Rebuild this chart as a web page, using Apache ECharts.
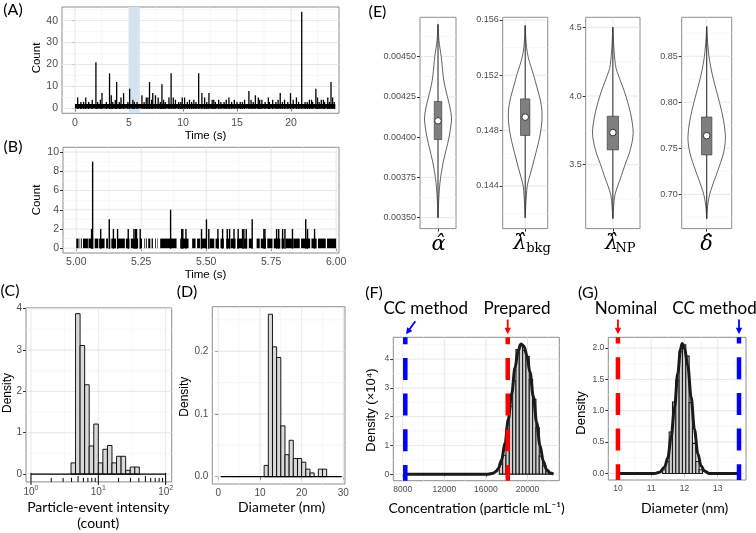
<!DOCTYPE html>
<html><head><meta charset="utf-8">
<script src="https://cdn.jsdelivr.net/npm/echarts@6/dist/echarts.min.js"></script>
<style>html,body{margin:0;padding:0;background:#fff}#c{width:756px;height:533px}</style>
</head><body><div id="c"></div>
<script>
// ================= DATA =================
// (A) full time trace: spikes [time s, count] and dense background band [start, end, count]
const aSpikes = [[0.25,5],[0.55,3],[0.8,3],[1.0,5],[1.27,3],[1.6,4],[1.94,21],[2.1,3],[2.35,4],[2.5,7],[2.9,3],[3.2,16],[3.36,6],[3.5,3],[3.73,4],[3.86,12],[4.1,3],[4.26,5],[4.5,7],[4.9,3],[5.06,9],[5.36,4],[5.5,3],[5.75,3],[6.2,6],[6.4,3],[6.6,5],[6.75,5],[6.9,12],[7.1,4],[7.2,7],[7.45,6],[7.7,5],[7.9,3],[8.05,11],[8.2,4],[8.36,3],[8.7,5],[8.9,16],[9.1,5],[9.3,4],[9.6,3],[9.8,3],[9.93,5],[10.15,5],[10.4,3],[10.6,4],[10.8,3],[11.0,4],[11.2,3],[11.45,16],[11.75,7],[12.0,5],[12.2,3],[12.4,7],[12.7,4],[12.85,4],[13.0,3],[13.3,4],[13.5,3],[13.8,3],[14.0,4],[14.25,5],[14.5,3],[14.75,4],[15.0,3],[15.3,3],[15.5,3],[15.7,4],[16.1,8],[16.3,4],[16.5,3],[16.7,6],[16.97,5],[17.1,4],[17.3,4],[17.6,3],[17.9,5],[18.0,3],[18.3,4],[18.6,3],[18.8,4],[19.0,7],[19.2,3],[19.4,4],[19.7,3],[19.95,7],[20.2,4],[20.5,5],[20.7,3],[20.99,44],[21.3,3],[21.5,3],[21.7,4],[21.9,4],[22.0,3],[22.3,9],[22.45,5],[22.6,3],[22.8,4],[23.0,4],[23.1,3],[23.4,5],[23.55,3],[23.7,12],[23.85,5],[24.0,3]];
const aBand = [[0, 24.1, 2]];
const aHighlight = [[5, 6]];
const aXTicks = [0,5,10,15,20], aXMinor = [2.5,7.5,12.5,17.5,22.5];
const aYTicks = [0,10,20,30,40], aYMinor = [5,15,25,35,45];

// (B) zoom 5-6 s: count-1 intervals [start,end] and spikes [time,count]
const bBand = [[5.000,5.009],[5.013,5.015],[5.019,5.022],[5.026,5.045],[5.047,5.065],[5.071,5.085],[5.088,5.109],[5.115,5.122],[5.126,5.131],[5.135,5.153],[5.159,5.187],[5.191,5.205],[5.210,5.238],[5.246,5.253],[5.262,5.265],[5.269,5.272],[5.277,5.285],[5.290,5.295],[5.303,5.306],[5.312,5.314],[5.323,5.386],[5.400,5.405],[5.408,5.432],[5.446,5.459],[5.465,5.476],[5.479,5.500],[5.513,5.531],[5.536,5.549],[5.555,5.568],[5.577,5.588],[5.594,5.613],[5.619,5.638],[5.644,5.658],[5.664,5.676],[5.694,5.706],[5.710,5.730],[5.735,5.755],[5.760,5.785],[5.790,5.800],[5.805,5.830],[5.835,5.860],[5.865,5.900],[5.905,5.925],[5.930,5.960],[5.965,6.000]];
const bSpikes = [[5.059,2],[5.063,9],[5.094,2],[5.127,3],[5.143,2],[5.159,2],[5.200,2],[5.222,2],[5.228,2],[5.232,2],[5.246,2],[5.363,4],[5.406,2],[5.410,2],[5.422,2],[5.482,2],[5.501,3],[5.510,2],[5.545,2],[5.563,2],[5.581,2],[5.590,2],[5.607,2],[5.623,2],[5.640,2],[5.645,2],[5.654,2],[5.677,3],[5.722,2],[5.726,2],[5.771,2],[5.779,2],[5.794,2],[5.803,2],[5.832,2],[5.883,3],[5.890,2],[5.917,2]];
const bXTicks = [5,5.25,5.5,5.75,6], bXMinor = [5.125,5.375,5.625,5.875];
const bYTicks = [0,2,4,6,8,10], bYMinor = [1,3,5,7,9];

// (C) particle-event intensity histogram (log bins)
const cEdges = [3.93,4.59,5.36,6.27,7.32,8.56,10,11.69,13.66,15.96,18.65,21.80,25.48,29.78,34.80,40.67];
const cDensity = [0.27,3.88,3.11,2.16,0.68,1.21,0.27,0.60,0.69,0.27,0.43,0.43,0.09,0.17,0.17];
const cRange = [1, 100];
const cXTicks = [1,10,100], cXMinor = [3.162,31.62];
const cYTicks = [0,1,2,3,4], cYMinor = [0.5,1.5,2.5,3.5];
const cLogLong = [1,10,100], cLogMid = [5,50], cLogShort = [2,3,4,6,7,8,9,20,30,40,60,70,80,90];

// (D) diameter histogram
const dEdges = [11,12,13,14,15,16,17,18,19,20,21,22,23,24,25,26];
const dDensity = [0.018,0.259,0.207,0.190,0.081,0.035,0.058,0.029,0.029,0.023,0.012,0.006,0,0.012,0.012];
const dRange = [0.58, 29.6];
const dXTicks = [0,10,20,30], dXMinor = [5,15,25];
const dYTicks = [0,0.1,0.2], dYMinor = [0.05,0.15,0.25];

// (E) violins: profile values + relative widths, box stats [min,q1,median,q3,max]
const e1Vals = [0.00350,0.00355,0.00365,0.00372,0.00378,0.00385,0.00392,0.00400,0.00408,0.00412,0.00418,0.00425,0.00432,0.00438,0.00445,0.00450,0.00455,0.00460,0.00465,0.00470];
const e1W    = [0,0.02,0.08,0.15,0.25,0.40,0.60,0.82,0.97,1.0,0.90,0.70,0.50,0.38,0.30,0.24,0.15,0.07,0.03,0];
const e1Box  = [0.00350,0.003985,0.004101,0.004221,0.00470];
const e2Vals = [0.1417,0.1425,0.1433,0.1440,0.1445,0.1452,0.1460,0.1468,0.1476,0.1484,0.1490,0.1497,0.1504,0.1512,0.1520,0.1527,0.1533,0.1540,0.1548,0.1556];
const e2W    = [0,0.03,0.07,0.12,0.22,0.38,0.55,0.72,0.87,0.97,1.0,0.97,0.86,0.68,0.50,0.32,0.18,0.08,0.03,0];
const e2Box  = [0.1417,0.14764,0.14897,0.15029,0.1556];
const e3Vals = [3.108,3.20,3.28,3.35,3.42,3.50,3.58,3.66,3.73,3.80,3.88,3.96,4.04,4.10,4.16,4.20,4.26,4.35,4.42,4.50];
const e3W    = [0,0.04,0.10,0.25,0.42,0.60,0.80,0.94,1.0,0.96,0.86,0.72,0.55,0.40,0.25,0.16,0.10,0.05,0.025,0];
const e3Box  = [3.108,3.608,3.734,3.853,4.50];
const e4Vals = [0.6736,0.683,0.692,0.700,0.708,0.716,0.725,0.735,0.745,0.755,0.762,0.770,0.780,0.790,0.800,0.810,0.820,0.830,0.840,0.850,0.860,0.870,0.8822];
const e4W    = [0,0.03,0.08,0.16,0.28,0.42,0.58,0.75,0.90,0.98,1.0,0.97,0.90,0.80,0.68,0.55,0.42,0.30,0.20,0.12,0.07,0.03,0];
const e4Box  = [0.6736,0.7428,0.7637,0.784,0.8822];
const e1Ticks = [0.0035,0.00375,0.004,0.00425,0.0045], e1Minor = [0.003625,0.003875,0.004125,0.004375,0.004625];
const e2Ticks = [0.144,0.148,0.152,0.156], e2Minor = [0.142,0.146,0.150,0.154];
const e3Ticks = [3.5,4.0,4.5], e3Minor = [3.25,3.75,4.25];
const e4Ticks = [0.70,0.75,0.80,0.85], e4Minor = [0.675,0.725,0.775,0.825,0.875];

// (F) concentration posterior (density x 1e4)
const fEdges = [17290,17610,17930,18250,18570,18890,19210,19530,19850,20170,20490,20810,21130,21450,21770,22090,22410];
const fDensity = [0.35,0.66,1.56,2.36,3.26,4.33,4.50,4.30,4.09,3.29,2.60,1.62,0.63,0.29,0.11,0.03];
const fCurve = [[8250,0],[16200,0],[16700,0.03],[17000,0.1],[17200,0.2],[17500,0.48],[17850,1.1],[18150,1.9],[18480,2.8],[18800,3.7],[19100,4.3],[19380,4.53],[19660,4.45],[19920,4.15],[20240,3.55],[20560,2.7],[20880,1.8],[21200,1.0],[21520,0.45],[21850,0.15],[22160,0.04],[22500,0]];
const fCC = 8250, fPrepared = 18100;
const fXTicks = [8000,12000,16000,20000], fXMinor = [10000,14000,18000,22000];
const fYTicks = [0,1,2,3,4], fYMinor = [0.5,1.5,2.5,3.5,4.5];

// (G) diameter posterior
const gEdges = [11.34,11.44,11.54,11.64,11.74,11.84,11.94,12.04,12.14,12.24,12.34,12.44,12.54];
const gDensity = [0.06,0.19,0.66,1.14,1.49,1.94,2.05,1.87,1.13,0.48,0.19,0.06];
const gCurve = [[10,0],[11.1,0],[11.25,0.02],[11.4,0.1],[11.5,0.25],[11.6,0.58],[11.7,1.05],[11.8,1.6],[11.88,1.98],[11.93,2.07],[12.0,2.0],[12.1,1.72],[12.2,1.22],[12.3,0.7],[12.4,0.32],[12.5,0.12],[12.6,0.04],[12.75,0],[13.64,0]];
const gNominal = 10, gCC = 13.64;
const gXTicks = [10,11,12,13], gXMinor = [10.5,11.5,12.5,13.5];
const gYTicks = [0,0.5,1,1.5,2], gYMinor = [0.25,0.75,1.25,1.75];

// ================= CHART =================
const SANS = 'Liberation Sans', CAL = 'Lato', SERIF = 'DejaVu Serif';
const chart = echarts.init(document.getElementById('c'), null, {renderer: 'canvas', width: 756, height: 533});

const gridBoxes = [
  [62, 7, 277, 106.3],        // 0 A
  [63, 147.3, 276, 105.7],    // 1 B
  [26, 307.9, 145.7, 174],    // 2 C
  [212.3, 306.7, 132.7, 177.3], // 3 D
  [420, 17.3, 36, 211.3],     // 4 E1
  [502.7, 17.3, 45, 211.3],   // 5 E2
  [585.7, 17.3, 54.3, 211.3], // 6 E3
  [681.7, 17.3, 50, 211.3],   // 7 E4
  [393.3, 337.3, 166, 143.4], // 8 F
  [608.3, 337.3, 137.7, 142.7] // 9 G
];
const grids = gridBoxes.map(b => ({left: b[0], top: b[1], width: b[2], height: b[3], show: true,
  backgroundColor: '#fff', borderColor: '#8c8c8c', borderWidth: 1, containLabel: false, outerBoundsMode: 'none'}));

function axisCfg(gi, min, max, ticks, fmt, fs, margin) {
  return {
    type: 'value', gridIndex: gi, min: min, max: max,
    axisLine: {show: false}, splitLine: {show: false}, minorTick: {show: false},
    axisTick: {show: true, customValues: ticks, length: 3, lineStyle: {color: '#333', width: 1}},
    axisLabel: {show: !!fmt, customValues: ticks, formatter: fmt || '', fontSize: fs, color: '#4d4d4d', fontFamily: SANS, margin: margin}
  };
}
const S = v => String(v);
const xAxes = [
  axisCfg(0, -1.2, 24.44, aXTicks, S, 10.5, 4),
  axisCfg(1, 4.949, 6.011, bXTicks, v => v.toFixed(2), 10.5, 4),
  {type: 'log', logBase: 10, gridIndex: 2, min: 0.843, max: 123,
   axisLine: {show: false}, splitLine: {show: false}, axisTick: {show: false},
   axisLabel: {color: '#4d4d4d', fontFamily: SANS, margin: 3, showMinLabel: false, showMaxLabel: false,
     formatter: v => { const l = Math.log10(v), r = Math.round(l); return Math.abs(l - r) < 1e-6 && r >= 0 && r <= 2 ? '{b|10}{s|' + r + '}' : ''; },
     rich: {b: {fontSize: 10, color: '#4d4d4d', fontFamily: SANS, lineHeight: 14},
            s: {fontSize: 7, color: '#4d4d4d', fontFamily: SANS, lineHeight: 8, verticalAlign: 'top'}}}},
  axisCfg(3, -1.44, 30.4, dXTicks, S, 10, 4),
  axisCfg(4, 0.4, 1.6, [1], null, 9, 4),
  axisCfg(5, 0.4, 1.6, [1], null, 9, 4),
  axisCfg(6, 0.4, 1.6, [1], null, 9, 4),
  axisCfg(7, 0.4, 1.6, [1], null, 9, 4),
  axisCfg(8, 7096, 23058, fXTicks, S, 8.5, 4),
  axisCfg(9, 9.71, 13.85, gXTicks, S, 8.5, 4)
];
const yAxes = [
  axisCfg(0, -2.2, 46.2, aYTicks, S, 10.5, 4),
  axisCfg(1, -0.5, 10.5, bYTicks, S, 10.5, 4),
  axisCfg(2, -0.19, 4.02, cYTicks, S, 10, 4),
  axisCfg(3, -0.0117, 0.271, dYTicks, v => v.toFixed(1), 10, 4),
  axisCfg(4, 0.003432, 0.004744, e1Ticks, v => v.toFixed(5), 9, 4),
  axisCfg(5, 0.14091, 0.15619, e2Ticks, v => v.toFixed(3), 9, 4),
  axisCfg(6, 3.035, 4.573, e3Ticks, v => v.toFixed(1), 9, 4),
  axisCfg(7, 0.6628, 0.8923, e4Ticks, v => v.toFixed(2), 9, 4),
  axisCfg(8, -0.227, 4.76, fYTicks, S, 8.5, 4),
  axisCfg(9, -0.104, 2.17, gYTicks, v => v.toFixed(1), 8.5, 4)
];

// ---------- helpers ----------
function gridLines(gi, xMaj, xMin, yMaj, yMin, xMid, yMid) {
  const data = [];
  xMin.forEach(v => data.push([v, yMid, 0, 1]));
  yMin.forEach(v => data.push([xMid, v, 1, 1]));
  xMaj.forEach(v => data.push([v, yMid, 0, 0]));
  yMaj.forEach(v => data.push([xMid, v, 1, 0]));
  return {type: 'custom', xAxisIndex: gi, yAxisIndex: gi, silent: true, z: 1, data: data,
    renderItem: (params, api) => {
      const cs = params.coordSys;
      const p = api.coord([api.value(0), api.value(1)]);
      const minor = api.value(3) === 1;
      const style = {stroke: minor ? '#f3f3f3' : '#e4e4e4', lineWidth: minor ? 0.7 : 0.9};
      if (api.value(2) === 0) {
        if (p[0] < cs.x || p[0] > cs.x + cs.width) return null;
        return {type: 'line', shape: {x1: p[0], y1: cs.y, x2: p[0], y2: cs.y + cs.height}, style: style};
      }
      if (p[1] < cs.y || p[1] > cs.y + cs.height) return null;
      return {type: 'line', shape: {x1: cs.x, y1: p[1], x2: cs.x + cs.width, y2: p[1]}, style: style};
    }};
}
function rectSeries(gi, data, fill, stroke, lw, z) {
  return {type: 'custom', xAxisIndex: gi, yAxisIndex: gi, silent: true, z: z || 3, data: data,
    encode: {x: [0, 1], y: [2, 3]},
    renderItem: (params, api) => {
      const p0 = api.coord([api.value(0), api.value(2)]);
      const p1 = api.coord([api.value(1), api.value(3)]);
      return {type: 'rect', shape: {x: Math.min(p0[0], p1[0]), y: Math.min(p0[1], p1[1]),
        width: Math.abs(p1[0] - p0[0]), height: Math.abs(p1[1] - p0[1])},
        style: {fill: fill, stroke: stroke || 'none', lineWidth: lw || 0}};
    }};
}
function spikeSeries(gi, data, lw) {
  return {type: 'custom', xAxisIndex: gi, yAxisIndex: gi, silent: true, z: 3,
    data: data.map(d => [d[0], 0, d[1]]), encode: {x: 0, y: [1, 2]},
    renderItem: (params, api) => {
      const p0 = api.coord([api.value(0), api.value(1)]);
      const p1 = api.coord([api.value(0), api.value(2)]);
      return {type: 'line', shape: {x1: p0[0], y1: p0[1] + 0.5, x2: p1[0], y2: p1[1]}, style: {stroke: '#000', lineWidth: lw}};
    }};
}
function histData(edges, dens) {
  const out = [];
  dens.forEach((h, i) => { if (h > 0) out.push([edges[i], edges[i + 1], 0, h]); });
  return out;
}
function lineSeries(gi, data, width, color, z) {
  return {type: 'line', xAxisIndex: gi, yAxisIndex: gi, data: data, symbol: 'none', showSymbol: false,
    silent: true, z: z || 4, smooth: 0.35, smoothMonotone: 'x',
    lineStyle: {color: color || '#111', width: width}};
}
function dashSeries(gi, v, color) {
  return {type: 'custom', xAxisIndex: gi, yAxisIndex: gi, silent: true, z: 6, data: [[v, 0]],
    renderItem: (params, api) => {
      const cs = params.coordSys;
      const p = api.coord([api.value(0), 0]);
      return {type: 'line', shape: {x1: p[0], y1: cs.y + cs.height, x2: p[0], y2: cs.y},
        style: {stroke: color, lineWidth: 4.5, lineDash: [22, 13.7], lineDashOffset: 6.3, lineCap: 'butt'}};
    }};
}
function logTickSeries(gi, vals, len, out) {
  return {type: 'custom', xAxisIndex: gi, yAxisIndex: gi, silent: true, z: 5, data: vals.map(v => [v, 1]),
    renderItem: (params, api) => {
      const cs = params.coordSys;
      const p = api.coord([api.value(0), 1]);
      const yb = cs.y + cs.height;
      return {type: 'line', shape: {x1: p[0], y1: yb + out, x2: p[0], y2: yb - len}, style: {stroke: '#000', lineWidth: 1}};
    }};
}
function violinSeries(gi, vals, w, box) {
  return {type: 'custom', xAxisIndex: gi, yAxisIndex: gi, silent: true, z: 4, data: [[1, box[2]]],
    renderItem: (params, api) => {
      const right = vals.map((v, i) => api.coord([1 + 0.45 * w[i], v]));
      const left = [];
      for (let i = vals.length - 1; i >= 0; i--) left.push(api.coord([1 - 0.45 * w[i], vals[i]]));
      const pMin = api.coord([1, box[0]]), pMax = api.coord([1, box[4]]);
      const b0 = api.coord([0.875, box[1]]), b1 = api.coord([1.125, box[3]]);
      const pm = api.coord([1, box[2]]);
      return {type: 'group', children: [
        {type: 'polygon', shape: {points: right.concat(left), smooth: 0.3}, style: {fill: '#fff', stroke: '#3a3a3a', lineWidth: 0.8}},
        {type: 'line', shape: {x1: pMin[0], y1: pMin[1], x2: pMax[0], y2: pMax[1]}, style: {stroke: '#333', lineWidth: 1.1}},
        {type: 'rect', shape: {x: b0[0], y: b1[1], width: b1[0] - b0[0], height: b0[1] - b1[1]}, style: {fill: '#7f7f7f', stroke: '#333', lineWidth: 0.6}},
        {type: 'circle', shape: {cx: pm[0], cy: pm[1], r: 3.3}, style: {fill: '#fff', stroke: '#333', lineWidth: 1}}
      ]};
    }};
}

const series = [
  // A
  gridLines(0, aXTicks, aXMinor, aYTicks, aYMinor, 10, 10),
  rectSeries(0, aHighlight.map(h => [h[0], h[1], -2.2, 46.2]), '#d3e3ef', null, 0, 2),
  rectSeries(0, aBand.map(b => [b[0], b[1], 0, b[2]]), '#000', null, 0, 3),
  spikeSeries(0, aSpikes, 1.3),
  // B
  gridLines(1, bXTicks, bXMinor, bYTicks, bYMinor, 5.5, 5),
  rectSeries(1, bBand.map(b => [b[0], b[1], 0, 1]), '#000', null, 0, 3),
  spikeSeries(1, bSpikes, 1.4),
  // C
  gridLines(2, cXTicks, cXMinor, cYTicks, cYMinor, 10, 2),
  rectSeries(2, histData(cEdges, cDensity), '#d9d9d9', '#000', 0.9, 3),
  lineSeries(2, [[cRange[0], 0], [cRange[1], 0]], 1.3, '#000'),
  logTickSeries(2, cLogLong, 9, 3),
  logTickSeries(2, cLogMid, 6, 0),
  logTickSeries(2, cLogShort, 4, 0),
  // D
  gridLines(3, dXTicks, dXMinor, dYTicks, dYMinor, 15, 0.1),
  rectSeries(3, histData(dEdges, dDensity), '#d9d9d9', '#000', 0.9, 3),
  lineSeries(3, [[dRange[0], 0], [dRange[1], 0]], 1.3, '#000'),
  // E
  gridLines(4, [1], [], e1Ticks, e1Minor, 1, 0.004),
  gridLines(5, [1], [], e2Ticks, e2Minor, 1, 0.148),
  gridLines(6, [1], [], e3Ticks, e3Minor, 1, 3.8),
  gridLines(7, [1], [], e4Ticks, e4Minor, 1, 0.77),
  violinSeries(4, e1Vals, e1W, e1Box),
  violinSeries(5, e2Vals, e2W, e2Box),
  violinSeries(6, e3Vals, e3W, e3Box),
  violinSeries(7, e4Vals, e4W, e4Box),
  // F
  gridLines(8, fXTicks, fXMinor, fYTicks, fYMinor, 15000, 2),
  rectSeries(8, histData(fEdges, fDensity), '#d0d0d0', '#1a1a1a', 1.1, 3),
  lineSeries(8, fCurve, 3, '#1a1a1a'),
  dashSeries(8, fCC, '#0000ff'),
  dashSeries(8, fPrepared, '#ff0000'),
  // G
  gridLines(9, gXTicks, gXMinor, gYTicks, gYMinor, 12, 1),
  rectSeries(9, histData(gEdges, gDensity), '#d0d0d0', '#1a1a1a', 1.1, 3),
  lineSeries(9, gCurve, 3, '#1a1a1a'),
  dashSeries(9, gNominal, '#ff0000'),
  dashSeries(9, gCC, '#0000ff')
];

chart.setOption({animation: false, backgroundColor: '#fff', grid: grids, xAxis: xAxes, yAxis: yAxes, series: series});

// ---------- annotations (text, arrows) ----------
function txt(s, x, y, font, rot, fill) {
  return {type: 'text', x: x, y: y, rotation: rot ? Math.PI / 2 : 0, silent: true, z: 20,
    style: {text: s, font: font, fill: fill || '#000', align: 'center', verticalAlign: 'middle'}};
}
function arrow(x1, y1, x2, y2, color) {
  const dx = x2 - x1, dy = y2 - y1, L = Math.hypot(dx, dy), ux = dx / L, uy = dy / L, hl = 6.5, hw = 3.2;
  const bx = x2 - ux * hl, by = y2 - uy * hl;
  return [
    {type: 'line', silent: true, z: 20, shape: {x1: x1, y1: y1, x2: bx + ux, y2: by + uy}, style: {stroke: color, lineWidth: 1.8}},
    {type: 'polygon', silent: true, z: 20, shape: {points: [[x2, y2], [bx - uy * hw, by + ux * hw], [bx + uy * hw, by - ux * hw]]}, style: {fill: color}}
  ];
}
const pFcc = chart.convertToPixel({gridIndex: 8}, [fCC, 0]);
const pFpr = chart.convertToPixel({gridIndex: 8}, [fPrepared, 0]);
const pGno = chart.convertToPixel({gridIndex: 9}, [gNominal, 0]);
const pGcc = chart.convertToPixel({gridIndex: 9}, [gCC, 0]);
const topFG = 337.3;

const P = '16px ' + CAL, T = '11.5px ' + SANS, L14 = '14px ' + CAL, L17 = '17px ' + CAL;
const elements = [
  txt('(A)', 13, 10, P), txt('(B)', 13, 147, P), txt('(C)', 10, 291, P), txt('(D)', 187, 291.5, P),
  txt('(E)', 377.5, 11.7, P), txt('(F)', 374, 293, P), txt('(G)', 588, 293, P),
  txt('Count', 37, 58, T, true), txt('Time (s)', 205.5, 135.5, T),
  txt('Count', 37, 200, T, true), txt('Time (s)', 205.5, 274.5, T),
  txt('Density', 8, 393, '12px ' + SANS, true),
  txt('Particle-event intensity', 98.3, 507, L14), txt('(count)', 98.3, 523, L14),
  txt('Density', 185, 396.7, '12px ' + SANS, true),
  txt('Diameter (nm)', 281.7, 507, L14),
  txt('Density (\u00d710\u2074)', 371.7, 410, '13px ' + SANS, true),
  txt('Concentration (particle mL\u207b\u00b9)', 476.5, 508, L14),
  txt('Density', 581, 413, '13px ' + SANS, true),
  txt('Diameter (nm)', 684.7, 508, L14),
  txt('CC method', 425.7, 309, L17), txt('Prepared', 517, 309, L17),
  txt('Nominal', 626, 309, L17), txt('CC method', 714.5, 309, L17),
  // E parameter labels
  txt('\u03b1\u0302', 438.5, 245, 'italic 21px ' + SERIF),
  txt('\u03bb\u0302', 520, 244, 'italic 21px ' + SERIF), txt('bkg', 538.5, 249, '13px ' + SERIF),
  txt('\u03bb\u0302', 611.7, 244, 'italic 21px ' + SERIF), txt('NP', 625.5, 249, '13px ' + SERIF),
  txt('\u03b4\u0302', 706.5, 245, 'italic 21px ' + SERIF)
].concat(
  arrow(pFcc[0] + 10, 321.3, pFcc[0] + 0.7, topFG - 3, '#0000ff'),
  arrow(pFpr[0], 319.5, pFpr[0], topFG - 3, '#ff0000'),
  arrow(pGno[0], 319.5, pGno[0], topFG - 3, '#ff0000'),
  arrow(pGcc[0], 319.5, pGcc[0], topFG - 3, '#0000ff')
);
chart.setOption({graphic: {elements: elements}});
</script></body></html>
